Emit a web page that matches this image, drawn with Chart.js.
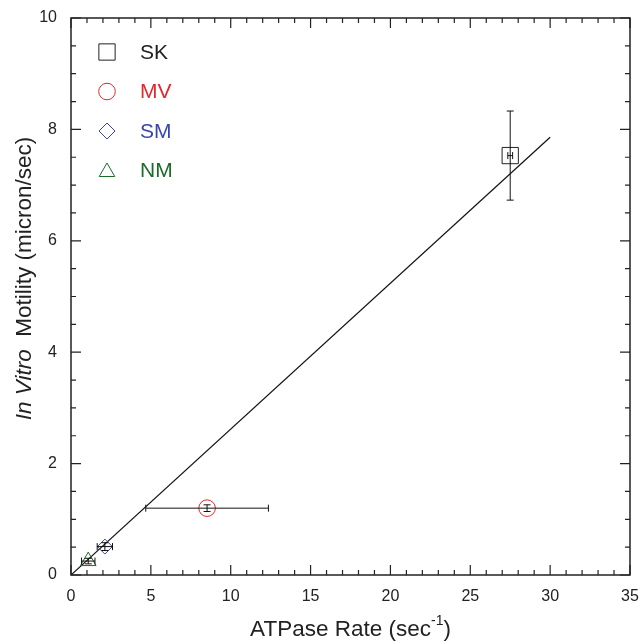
<!DOCTYPE html>
<html>
    <head>
        <title> ATPase vs motility </title>
        <meta charset="utf-8">
        <script src="https://cdn.jsdelivr.net/npm/chart.js"></script>
        <style>
            body { margin: 0; background: #fff; }
        </style>
    </head>
    <body>
        <canvas id="MotilityChart" width="644" height="642"></canvas>

        <script>
         // values
         const names   = ['SK', 'MV', 'SM', 'NM'];
         const xVals   = [27.5, 8.52, 2.12, 1.08];
         const yVals   = [7.53, 1.20, 0.51, 0.25];
         const xErr    = [0.15, 3.84, 0.48, 0.42];
         const yErr    = [0.80, 0.06, 0.07, 0.05];
         const colors  = ['#222222', '#e2282c', '#3a46ab', '#1c6b2a'];
         const shapes  = ['rect', 'circle', 'rectRot', 'triangle'];
         const sizes   = [11.5, 8.3, 7.5, 9];
         const fitX    = [0, 30];
         const fitY    = [0, 7.86];
         const xTicks  = [0, 5, 10, 15, 20, 25, 30, 35];
         const yTicks  = [0, 2, 4, 6, 8, 10];

         const FONT = '"Liberation Sans", Arial, Helvetica, sans-serif';

         const datasets = names.map((n, i) => ({
            label: n,
            data: [{x: xVals[i], y: yVals[i]}],
            pointStyle: shapes[i],
            pointRadius: sizes[i],
            pointHoverRadius: sizes[i],
            borderColor: colors[i],
            backgroundColor: 'rgba(0,0,0,0)',
            pointBorderWidth: 1,
            xErr: xErr[i],
            yErr: yErr[i]
         }));
         datasets.push({
            label: 'fit',
            data: fitX.map((x, i) => ({x: x, y: fitY[i]})),
            showLine: true,
            borderColor: '#111',
            borderWidth: 1.2,
            pointRadius: 0
         });

         // error bars, drawn through the scales
         const errorBars = {
            id: 'errorBars',
            afterDatasetsDraw(chart) {
               const ctx = chart.ctx, xs = chart.scales.x, ys = chart.scales.y;
               ctx.save();
               ctx.strokeStyle = '#111';
               ctx.lineWidth = 1;
               chart.data.datasets.forEach(ds => {
                  if (ds.xErr === undefined) return;
                  const p = ds.data[0];
                  const cx = xs.getPixelForValue(p.x), cy = ys.getPixelForValue(p.y);
                  const x1 = xs.getPixelForValue(p.x - ds.xErr), x2 = xs.getPixelForValue(p.x + ds.xErr);
                  const y1 = ys.getPixelForValue(p.y - ds.yErr), y2 = ys.getPixelForValue(p.y + ds.yErr);
                  ctx.beginPath();
                  ctx.moveTo(x1, cy); ctx.lineTo(x2, cy);
                  ctx.moveTo(x1, cy - 3.5); ctx.lineTo(x1, cy + 3.5);
                  ctx.moveTo(x2, cy - 3.5); ctx.lineTo(x2, cy + 3.5);
                  ctx.moveTo(cx, y1); ctx.lineTo(cx, y2);
                  ctx.moveTo(cx - 3.5, y1); ctx.lineTo(cx + 3.5, y1);
                  ctx.moveTo(cx - 3.5, y2); ctx.lineTo(cx + 3.5, y2);
                  ctx.stroke();
               });
               ctx.restore();
            }
         };

         function drawShape(ctx, shape, x, y, r) {
            ctx.beginPath();
            if (shape === 'rect') {
               const s = r * Math.SQRT1_2;
               ctx.rect(x - s, y - s, 2 * s, 2 * s);
            } else if (shape === 'circle') {
               ctx.arc(x, y, r, 0, Math.PI * 2);
            } else if (shape === 'rectRot') {
               ctx.moveTo(x, y - r); ctx.lineTo(x + r, y);
               ctx.lineTo(x, y + r); ctx.lineTo(x - r, y);
               ctx.closePath();
            } else {
               ctx.moveTo(x, y - r);
               ctx.lineTo(x + r * 0.866, y + r * 0.5);
               ctx.lineTo(x - r * 0.866, y + r * 0.5);
               ctx.closePath();
            }
            ctx.stroke();
         }

         // frame, inward ticks, legend and axis titles
         const decor = {
            id: 'decor',
            afterDraw(chart) {
               const ctx = chart.ctx, a = chart.chartArea;
               const xs = chart.scales.x, ys = chart.scales.y;
               ctx.save();
               ctx.strokeStyle = '#222';
               ctx.lineWidth = 1.5;
               ctx.strokeRect(a.left, a.top, a.right - a.left, a.bottom - a.top);

               ctx.lineWidth = 1.2;
               ctx.beginPath();
               for (let v = 0; v <= 35; v++) {
                  const px = xs.getPixelForValue(v);
                  const len = v % 5 === 0 ? 10 : 5;
                  ctx.moveTo(px, a.bottom); ctx.lineTo(px, a.bottom - len);
                  ctx.moveTo(px, a.top); ctx.lineTo(px, a.top + len);
               }
               for (let v = 0; v <= 10; v += 0.5) {
                  const py = ys.getPixelForValue(v);
                  const len = v % 2 === 0 ? 10 : 5;
                  ctx.moveTo(a.left, py); ctx.lineTo(a.left + len, py);
                  ctx.moveTo(a.right, py); ctx.lineTo(a.right - len, py);
               }
               ctx.stroke();

               // legend
               ctx.lineWidth = 1;
               ctx.font = '21px ' + FONT;
               ctx.textBaseline = 'middle';
               const legR = [11.5, 8.3, 8, 9];
               names.forEach((n, i) => {
                  const ly = a.top + 34 + i * 39.5;
                  ctx.strokeStyle = colors[i];
                  drawShape(ctx, shapes[i], a.left + 36, ly + (i === 3 ? 1.5 : 0), legR[i]);
                  ctx.fillStyle = colors[i];
                  ctx.fillText(n, a.left + 69, ly + 1);
               });

               // x title
               ctx.fillStyle = '#222';
               ctx.textBaseline = 'alphabetic';
               const big = '22.5px ' + FONT, small = '14px ' + FONT;
               ctx.font = big;
               const t1 = 'ATPase Rate (sec', t3 = ')';
               const w1 = ctx.measureText(t1).width, w3 = ctx.measureText(t3).width;
               ctx.font = small;
               const w2 = ctx.measureText('-1').width;
               let tx = (a.left + a.right) / 2 - (w1 + w2 + w3) / 2;
               const base = 636;
               ctx.font = big; ctx.fillText(t1, tx, base); tx += w1;
               ctx.font = small; ctx.fillText('-1', tx, base - 11); tx += w2;
               ctx.font = big; ctx.fillText(t3, tx, base);

               // y title
               ctx.translate(25, (a.top + a.bottom) / 2 - 18);
               ctx.rotate(-Math.PI / 2);
               ctx.textBaseline = 'middle';
               const it = 'In Vitro', rest = '  Motility (micron/sec)';
               ctx.font = 'italic 22.5px ' + FONT;
               const wi = ctx.measureText(it).width;
               ctx.font = big;
               const wr = ctx.measureText(rest).width;
               let ty = -(wi + wr) / 2;
               ctx.font = 'italic 22.5px ' + FONT; ctx.fillText(it, ty, 0);
               ctx.font = big; ctx.fillText(rest, ty + wi, 0);
               ctx.restore();
            }
         };

         const chart = {
            type: 'scatter',
            data: { datasets: datasets },
            options: {
               responsive: false,
               animation: false,
               devicePixelRatio: 1,
               layout: { padding: { top: 18, right: 14, left: 0, bottom: 0 } },
               plugins: { legend: { display: false }, tooltip: { enabled: false } },
               scales: {
                  x: {
                     type: 'linear', min: 0, max: 35,
                     afterBuildTicks: s => { s.ticks = xTicks.map(v => ({value: v})); },
                     afterFit: s => { s.height = 67; s.paddingLeft = 0; s.paddingRight = 0; },
                     grid: { display: false, drawTicks: false },
                     border: { display: false },
                     ticks: { font: { family: FONT, size: 16 }, color: '#222', padding: 12, maxRotation: 0 }
                  },
                  y: {
                     type: 'linear', min: 0, max: 10,
                     afterBuildTicks: s => { s.ticks = yTicks.map(v => ({value: v})); },
                     afterFit: s => { s.width = 71; s.paddingTop = 0; s.paddingBottom = 0; },
                     grid: { display: false, drawTicks: false },
                     border: { display: false },
                     ticks: { font: { family: FONT, size: 16 }, color: '#222', padding: 14 }
                  }
               }
            },
            plugins: [errorBars, decor]
         };
         const ctx = document.getElementById('MotilityChart').getContext('2d');
         const myChart = new Chart(ctx, chart);
        </script>
    </body>
</html>
